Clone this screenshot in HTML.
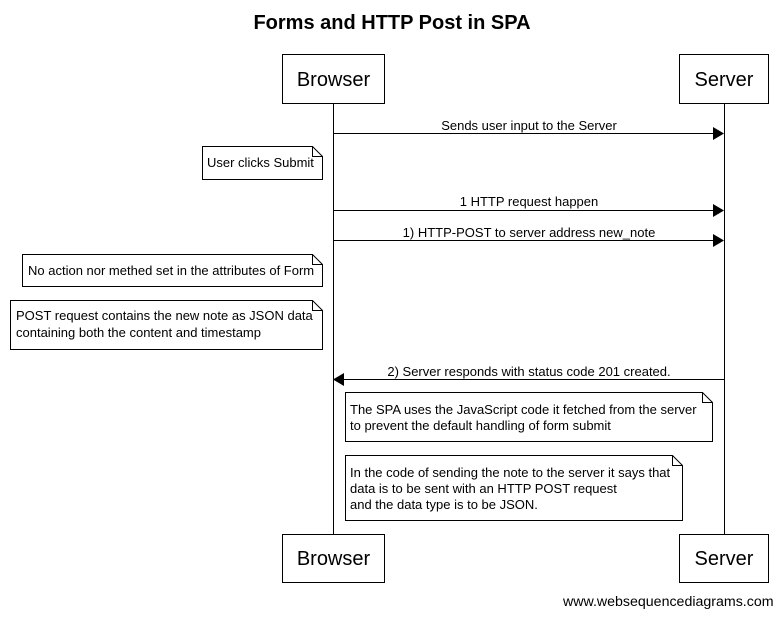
<!DOCTYPE html>
<html><head><style>body{margin:0;background:#fff}</style></head><body>
<svg width="783" height="616" xmlns="http://www.w3.org/2000/svg" font-family="Liberation Sans, Arial, sans-serif">
<rect width="783" height="616" fill="#fff"/>
<text x="392" y="29" text-anchor="middle" font-size="20" font-weight="bold">Forms and HTTP Post in SPA</text>
<g stroke="#000" fill="#fff" stroke-width="1">
<line x1="333.5" y1="103" x2="333.5" y2="534"/>
<line x1="724.5" y1="103" x2="724.5" y2="534"/>
<rect x="282.5" y="54.5" width="102" height="49"/>
<rect x="679.5" y="54.5" width="89" height="49"/>
<rect x="282.5" y="534.5" width="102" height="48"/>
<rect x="679.5" y="534.5" width="89" height="48"/>
<line x1="333" y1="133.5" x2="714" y2="133.5"/>
<line x1="333" y1="210.5" x2="714" y2="210.5"/>
<line x1="333" y1="240.5" x2="714" y2="240.5"/>
<line x1="344" y1="379.5" x2="724" y2="379.5"/>
<path d="M202.5 146.5H312.5L322.5 156.5V179.5H202.5Z"/><path d="M312.5 146.5V156.5H322.5" fill="none"/>
<path d="M22.5 254.5H312.5L322.5 264.5V286.5H22.5Z"/><path d="M312.5 254.5V264.5H322.5" fill="none"/>
<path d="M10.5 300.5H312.5L322.5 310.5V349.5H10.5Z"/><path d="M312.5 300.5V310.5H322.5" fill="none"/>
<path d="M345.5 392.5H702.5L712.5 402.5V441.5H345.5Z"/><path d="M702.5 392.5V402.5H712.5" fill="none"/>
<path d="M345.5 455.5H672.5L682.5 465.5V520.5H345.5Z"/><path d="M672.5 455.5V465.5H682.5" fill="none"/>
</g>
<g fill="#000">
<path d="M724 133.5L713 127V140Z"/>
<path d="M724 210.5L713 204V217Z"/>
<path d="M724 240.5L713 234V247Z"/>
<path d="M333 379.5L344 373V386Z"/>
</g>
<g font-size="20" text-anchor="middle">
<text x="333.5" y="86">Browser</text><text x="724" y="86">Server</text>
<text x="333.5" y="565">Browser</text><text x="724" y="565">Server</text>
</g>
<g font-size="13" text-anchor="middle">
<text x="529" y="130">Sends user input to the Server</text>
<text x="529" y="206">1 HTTP request happen</text>
<text x="529" y="237">1) HTTP-POST to server address new_note</text>
<text x="529" y="376">2) Server responds with status code 201 created.</text>
</g>
<g font-size="13">
<text x="207" y="167">User clicks Submit</text>
<text x="28" y="275">No action nor methed set in the attributes of Form</text>
<text x="16" y="320">POST request contains the new note as JSON data</text>
<text x="16" y="337">containing both the content and timestamp</text>
<text x="350" y="414">The SPA uses the JavaScript code it fetched from the server</text>
<text x="350" y="430">to prevent the default handling of form submit</text>
<text x="350" y="477">In the code of sending the note to the server it says that</text>
<text x="350" y="493">data is to be sent with an HTTP POST request</text>
<text x="350" y="509">and the data type is to be JSON.</text>
<text x="563" y="606" font-size="14.2">www.websequencediagrams.com</text>
</g>
</svg>
</body></html>
